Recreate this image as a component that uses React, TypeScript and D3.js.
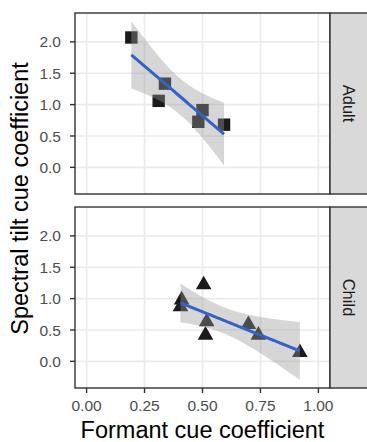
import React, { useEffect } from 'react';
import * as d3 from 'd3';

// facet labels and the points of each facet
const panels = ['Adult', 'Child'];
const adultX = [0.193, 0.338, 0.311, 0.5, 0.482, 0.593];
const adultY = [2.07, 1.334, 1.06, 0.912, 0.726, 0.68];
const childX = [0.505, 0.41, 0.405, 0.518, 0.513, 0.698, 0.741, 0.92];
const childY = [1.22, 0.98, 0.87, 0.63, 0.418, 0.589, 0.418, 0.14];
const xTicks = [0, 0.25, 0.5, 0.75, 1];
const yTicks = [0, 0.5, 1, 1.5, 2];

// 97.5% quantile of Student's t, by degrees of freedom
const t975 = [NaN, 12.706, 4.303, 3.182, 2.776, 2.571, 2.447, 2.365, 2.306, 2.262, 2.228];

const W = 367;
const H = 442;
const left = 75;
const right = 330;
const stripRight = 368;
const tops = [13, 207];
const panelH = 181;
const font = '"Liberation Sans", Arial, Helvetica, sans-serif';

const fitLm = (xs: number[], ys: number[]) => {
  const n = xs.length;
  const mx = d3.mean(xs)!;
  const my = d3.mean(ys)!;
  const sxx = d3.sum(xs, x => (x - mx) ** 2);
  const sxy = d3.sum(xs, (x, i) => (x - mx) * (ys[i] - my));
  const b = sxy / sxx;
  const a = my - b * mx;
  const s = Math.sqrt(d3.sum(xs, (x, i) => (ys[i] - a - b * x) ** 2) / (n - 2));
  const t = t975[n - 2];
  const grid = d3.range(80).map(i => d3.min(xs)! + (i / 79) * (d3.max(xs)! - d3.min(xs)!));
  return grid.map(x => {
    const fit = a + b * x;
    const half = t * s * Math.sqrt(1 / n + (x - mx) ** 2 / sxx);
    return { x, fit, lo: fit - half, hi: fit + half };
  });
};

const facets = [
  { name: panels[0], xs: adultX, ys: adultY, shape: 'square' },
  { name: panels[1], xs: childX, ys: childY, shape: 'triangle' },
].map(f => ({ ...f, fit: fitLm(f.xs, f.ys) }));

// shared y range from points and ribbons, with ggplot's 5% expansion
const yLo = d3.min(facets, f => Math.min(d3.min(f.ys)!, d3.min(f.fit, d => d.lo)!))!;
const yHi = d3.max(facets, f => Math.max(d3.max(f.ys)!, d3.max(f.fit, d => d.hi)!))!;
const yPad = (yHi - yLo) * 0.05;

const xScale = d3.scaleLinear().domain([-0.05, 1.05]).range([left, right]);

const r = 5.8;
const triPath = `M0,${-1.5551 * r}L${1.3468 * r},${0.7776 * r}L${-1.3468 * r},${0.7776 * r}Z`;

const App = () => {
  useEffect(() => {
    document.body.style.margin = '0';
  }, []);

  return (
    <svg width={W} height={H} style={{ display: 'block', background: '#fff' }} fontFamily={font}>
      {facets.map((f, pi) => {
        const top = tops[pi];
        const y = d3.scaleLinear().domain([yLo - yPad, yHi + yPad]).range([top + panelH, top]);
        const area = d3.area<any>().x(d => xScale(d.x)).y0(d => y(d.lo)).y1(d => y(d.hi));
        const line = d3.line<any>().x(d => xScale(d.x)).y(d => y(d.fit));
        return (
          <g key={f.name}>
            <rect x={left} y={top} width={right - left} height={panelH} fill="#fff" />
            {xTicks.map(t => (
              <line key={'gx' + t} x1={xScale(t)} x2={xScale(t)} y1={top} y2={top + panelH}
                stroke="#EBEBEB" strokeWidth={1.7} />
            ))}
            {yTicks.map(t => (
              <line key={'gy' + t} x1={left} x2={right} y1={y(t)} y2={y(t)}
                stroke="#EBEBEB" strokeWidth={1.7} />
            ))}
            {f.xs.map((x, i) =>
              f.shape === 'square' ? (
                <rect key={i} x={xScale(x) - 6.2} y={y(f.ys[i]) - 6.2} width={12.4} height={12.4} fill="#1a1a1a" />
              ) : (
                <path key={i} d={triPath} transform={`translate(${xScale(x)},${y(f.ys[i])})`} fill="#1a1a1a" />
              )
            )}
            <path d={area(f.fit)!} fill="#999999" fillOpacity={0.4} />
            <path d={line(f.fit)!} fill="none" stroke="#3463C8" strokeWidth={3} />
            <rect x={left} y={top} width={right - left} height={panelH} fill="none"
              stroke="#333333" strokeWidth={1.4} />
            {yTicks.map(t => (
              <g key={'ty' + t}>
                <line x1={left - 5} x2={left} y1={y(t)} y2={y(t)} stroke="#333333" strokeWidth={1.4} />
                <text x={61} y={y(t)} dy="0.36em" textAnchor="end" fontSize={15.5} fill="#4D4D4D">
                  {d3.format('.1f')(t)}
                </text>
              </g>
            ))}
            <rect x={right} y={top} width={stripRight - right} height={panelH}
              fill="#D9D9D9" stroke="#333333" strokeWidth={1.4} />
            <text transform={`translate(${(right + stripRight) / 2},${top + panelH / 2}) rotate(90)`}
              textAnchor="middle" dy="0.36em" fontSize={16.5} fill="#1A1A1A">
              {f.name}
            </text>
          </g>
        );
      })}
      {xTicks.map(t => (
        <g key={'tx' + t}>
          <line x1={xScale(t)} x2={xScale(t)} y1={tops[1] + panelH} y2={tops[1] + panelH + 5}
            stroke="#333333" strokeWidth={1.4} />
          <text x={xScale(t)} y={411} textAnchor="middle" fontSize={15.5} fill="#4D4D4D">
            {d3.format('.2f')(t)}
          </text>
        </g>
      ))}
      <text x={(left + right) / 2} y={438} textAnchor="middle" fontSize={23.5} fill="#000">
        Formant cue coefficient
      </text>
      <text transform={`translate(28,${(tops[0] + tops[1] + panelH) / 2 - 2}) rotate(-90)`}
        textAnchor="middle" fontSize={23.5} fill="#000">
        Spectral tilt cue coefficient
      </text>
    </svg>
  );
};

export default App;
